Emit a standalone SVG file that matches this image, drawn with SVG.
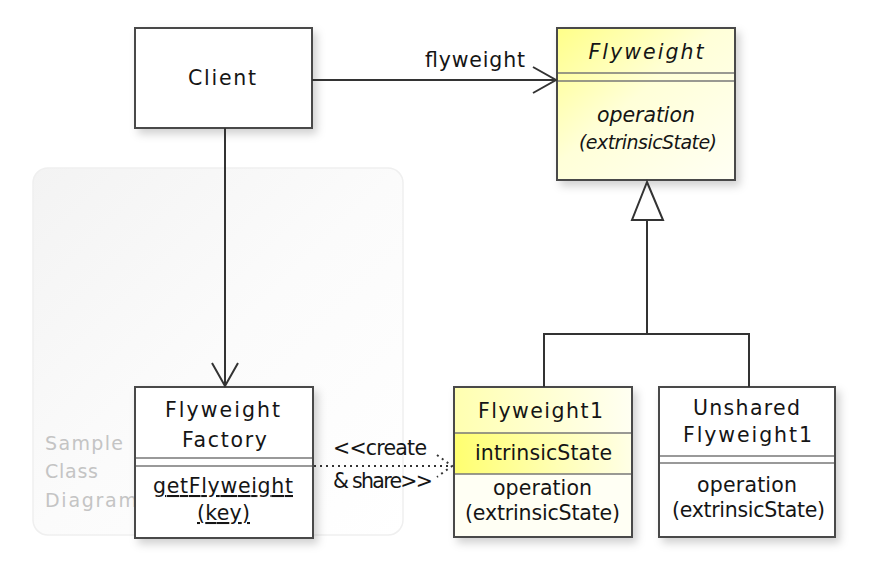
<svg xmlns="http://www.w3.org/2000/svg" width="875" height="568" viewBox="0 0 875 568">
<defs>
<style>
text{font-family:"DejaVu Sans","Liberation Sans",sans-serif;font-size:20.5px;fill:#151515;text-anchor:middle}
.it{font-style:italic}
.sm{font-size:19px}
.ul{text-decoration:underline}
.lbl{text-anchor:start}
.bg{font-size:19px;fill:#c4c4c4;text-anchor:start}
.box{stroke:#4a4a4a;stroke-width:2}
.sep{stroke:#777;stroke-width:1.5;fill:none}
.ln{stroke:#333;stroke-width:2;fill:none}
.dot{stroke:#333;stroke-width:2;fill:none;stroke-dasharray:2 4}
</style>
<linearGradient id="gy" x1="0" y1="0" x2="1" y2="1">
<stop offset="0" stop-color="#ffff88"/>
<stop offset="0.45" stop-color="#ffffd8"/>
<stop offset="1" stop-color="#fffff4"/>
</linearGradient>
<linearGradient id="gy1" x1="0" y1="0" x2="1" y2="0">
<stop offset="0" stop-color="#ffffb0"/>
<stop offset="1" stop-color="#fffff2"/>
</linearGradient>
<linearGradient id="gy2" x1="0" y1="0" x2="1" y2="0">
<stop offset="0" stop-color="#ffff70"/>
<stop offset="1" stop-color="#ffffe6"/>
</linearGradient>
<linearGradient id="gbg" x1="0" y1="0" x2="1" y2="1">
<stop offset="0" stop-color="#f3f3f3"/>
<stop offset="0.5" stop-color="#fbfbfb"/>
<stop offset="1" stop-color="#ffffff"/>
</linearGradient>
<filter id="sh" x="-10%" y="-10%" width="130%" height="130%">
<feDropShadow dx="4" dy="5" stdDeviation="4" flood-color="#000" flood-opacity="0.18"/>
</filter>
</defs>
<rect width="875" height="568" fill="#fff"/>

<g id="background">
<rect x="33" y="168" width="370" height="367" rx="15" fill="url(#gbg)" stroke="#efefef" stroke-width="1.5"/>
<text class="bg" x="45" y="450" textLength="78" lengthAdjust="spacing">Sample</text>
<text class="bg" x="45" y="478" textLength="53" lengthAdjust="spacing">Class</text>
<text class="bg" x="45" y="507" textLength="92" lengthAdjust="spacing">Diagram</text>
</g>

<g id="client">
<rect class="box" x="135" y="28" width="177" height="100" fill="#fff" filter="url(#sh)"/>
<text x="222" y="85" textLength="68" lengthAdjust="spacing">Client</text>
</g>

<g id="flyweight">
<rect class="box" x="557" y="28" width="178" height="152" fill="url(#gy)" filter="url(#sh)"/>
<line class="sep" x1="558" y1="73" x2="734" y2="73"/>
<line class="sep" x1="558" y1="81" x2="734" y2="81"/>
<text class="it" x="646" y="59" textLength="115" lengthAdjust="spacing">Flyweight</text>
<text class="it" x="646" y="122" textLength="98" lengthAdjust="spacing">operation</text>
<text class="it sm" x="648" y="149" textLength="138" lengthAdjust="spacing">(extrinsicState)</text>
</g>

<g id="factory">
<rect class="box" x="135" y="387" width="178" height="151" fill="#fff" filter="url(#sh)"/>
<line class="sep" x1="136" y1="458" x2="312" y2="458"/>
<line class="sep" x1="136" y1="466" x2="312" y2="466"/>
<text x="222.5" y="417" textLength="115" lengthAdjust="spacing">Flyweight</text>
<text x="224.5" y="447" textLength="85" lengthAdjust="spacing">Factory</text>
<text class="ul" x="223" y="493" textLength="140" lengthAdjust="spacing">getFlyweight</text>
<text class="ul" x="223.5" y="520" textLength="53" lengthAdjust="spacing">(key)</text>
</g>

<g id="flyweight1">
<rect class="box" x="454" y="387" width="178" height="150" fill="url(#gy1)" filter="url(#sh)"/>
<rect x="455" y="433" width="176" height="41" fill="url(#gy2)"/>
<rect x="455" y="474" width="176" height="62" fill="#fffff4"/>
<line class="sep" x1="455" y1="433" x2="631" y2="433"/>
<line class="sep" x1="455" y1="474" x2="631" y2="474"/>
<text x="540.5" y="418" textLength="125" lengthAdjust="spacing">Flyweight1</text>
<text x="543.5" y="460" textLength="137" lengthAdjust="spacing">intrinsicState</text>
<text x="542.5" y="495" textLength="99" lengthAdjust="spacing">operation</text>
<text x="542.5" y="520" textLength="155" lengthAdjust="spacing">(extrinsicState)</text>
</g>

<g id="unshared">
<rect class="box" x="659" y="387" width="176" height="150" fill="#fff" filter="url(#sh)"/>
<line class="sep" x1="660" y1="456" x2="834" y2="456"/>
<line class="sep" x1="660" y1="463" x2="834" y2="463"/>
<text x="746.5" y="415" textLength="107" lengthAdjust="spacing">Unshared</text>
<text x="747.5" y="442" textLength="129" lengthAdjust="spacing">Flyweight1</text>
<text x="747" y="492" textLength="100" lengthAdjust="spacing">operation</text>
<text x="748.5" y="517" textLength="153" lengthAdjust="spacing">(extrinsicState)</text>
</g>

<g id="connectors">
<line class="ln" x1="312" y1="80" x2="556" y2="80"/>
<polyline class="ln" points="533,67 556,80 533,93"/>
<text class="lbl" x="425" y="67" textLength="100" lengthAdjust="spacing">flyweight</text>

<line class="ln" x1="225" y1="128" x2="225" y2="386"/>
<polyline class="ln" points="212,363 225,386 238,363"/>

<line class="dot" x1="314" y1="466" x2="452" y2="466"/>
<polyline class="dot" points="437,455 452,466 437,477"/>
<text class="lbl" x="333" y="455" textLength="94" lengthAdjust="spacing">&lt;&lt;create</text>
<text class="lbl" x="333" y="488" textLength="100" lengthAdjust="spacing">&amp; share&gt;&gt;</text>

<polygon class="ln" points="647,182 632,220 663,220" fill="#fff"/>
<polyline class="ln" points="647,220 647,334"/>
<polyline class="ln" points="544,387 544,334 749,334 749,387"/>
</g>
</svg>
